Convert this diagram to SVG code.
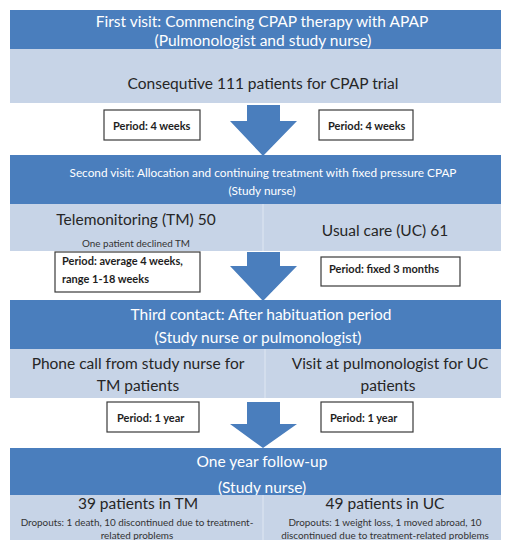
<svg xmlns="http://www.w3.org/2000/svg" width="505" height="540" viewBox="0 0 505 540">
  <style>
    .dark { fill: #4a7ebd; }
    .light { fill: #c7d4e7; }
    .split { stroke: #dfe7f2; stroke-width: 1; }
    .box { fill: #ffffff; stroke: #3a3a3a; stroke-width: 1.2; }
    .arrow { fill: #4a7ebd; }
    text { font-family: Lato, "Open Sans", "Liberation Sans", sans-serif; text-anchor: middle; dominant-baseline: central; }
    .hw { fill: #ffffff; font-size: 15.5px; }
    .hs { fill: #ffffff; font-size: 11.8px; }
    .big { fill: #262626; font-size: 15.5px; }
    .small { fill: #333333; font-size: 9.9px; }
    .per { fill: #1e1e1e; font-size: 11px; font-weight: 700; text-anchor: start; }
  </style>

  <!-- flow arrows between stages -->
  <g id="connectors">
    <polygon class="arrow" points="247,105 280,105 280,121 297,121 263,156 230,121 247,121"/>
    <polygon class="arrow" points="247,252 280,252 280,266 297,266 263,301 230,266 247,266"/>
    <polygon class="arrow" points="247,402 280,402 280,424 297,424 263,448 230,424 247,424"/>
  </g>

  <!-- stage 1 -->
  <g id="stage1">
    <rect class="dark" x="10" y="10" width="491" height="39"/>
    <text class="hw" x="262" y="21">First visit: Commencing  CPAP therapy with APAP</text>
    <text class="hw" x="263" y="40">(Pulmonologist and study nurse)</text>
    <rect class="light" x="10" y="49" width="491" height="54"/>
    <text class="big" x="263" y="83">Consequtive 111 patients for CPAP trial</text>
  </g>
  <g id="period1-left">
    <rect class="box" x="104" y="110" width="96" height="30"/>
    <text class="per" x="113" y="125">Period: 4 weeks</text>
  </g>
  <g id="period1-right">
    <rect class="box" x="319" y="110" width="94" height="30"/>
    <text class="per" x="328" y="125">Period: 4 weeks</text>
  </g>

  <!-- stage 2 -->
  <g id="stage2">
    <rect class="dark" x="10" y="155" width="491" height="49"/>
    <text class="hs" x="263" y="172">Second visit: Allocation and continuing treatment  with fixed pressure CPAP</text>
    <text class="hs" x="262" y="190">(Study nurse)</text>
    <rect class="light" x="10" y="204" width="491" height="47"/>
    <line class="split" x1="263" y1="204" x2="263" y2="251"/>
  </g>
  <g id="tm-group">
    <text class="big" x="136" y="219">Telemonitoring (TM) 50</text>
    <text class="small" x="136" y="243">One patient declined TM</text>
  </g>
  <g id="uc-group">
    <text class="big" x="385" y="230">Usual care (UC) 61</text>
  </g>
  <g id="period2-left">
    <rect class="box" x="55" y="252" width="145" height="40"/>
    <text class="per" x="62" y="260">Period: average 4 weeks,</text>
    <text class="per" x="62" y="278">range 1-18 weeks</text>
  </g>
  <g id="period2-right">
    <rect class="box" x="321" y="257" width="139" height="29"/>
    <text class="per" x="329" y="268">Period: fixed 3 months</text>
  </g>

  <!-- stage 3 -->
  <g id="stage3">
    <rect class="dark" x="10" y="300" width="491" height="49"/>
    <text class="hw" x="261" y="314" font-size="16.5">Third contact: After habituation period</text>
    <text class="hw" x="258" y="337" font-size="16.5">(Study nurse or pulmonologist)</text>
    <rect class="light" x="10" y="349" width="491" height="49"/>
    <line class="split" x1="265" y1="349" x2="265" y2="398"/>
  </g>
  <g id="phone-call">
    <text class="big" x="138" y="363" font-size="16">Phone call from study nurse for</text>
    <text class="big" x="138" y="385" font-size="16">TM patients</text>
  </g>
  <g id="visit-uc">
    <text class="big" x="390" y="363" font-size="16">Visit at pulmonologist for UC</text>
    <text class="big" x="388" y="385" font-size="16">patients</text>
  </g>
  <g id="period3-left">
    <rect class="box" x="107" y="402" width="92" height="30"/>
    <text class="per" x="117" y="417">Period: 1 year</text>
  </g>
  <g id="period3-right">
    <rect class="box" x="321" y="402" width="92" height="30"/>
    <text class="per" x="330" y="417">Period: 1 year</text>
  </g>

  <!-- stage 4 -->
  <g id="stage4">
    <rect class="dark" x="10" y="448" width="491" height="47"/>
    <text class="hw" x="262" y="461" font-size="15">One year follow-up</text>
    <text class="hw" x="262" y="487" font-size="15">(Study nurse)</text>
    <rect class="light" x="10" y="495" width="491" height="45"/>
    <line class="split" x1="263" y1="495" x2="263" y2="540"/>
  </g>
  <g id="tm-result">
    <text class="big" x="138" y="503" font-size="14.5">39 patients in TM</text>
    <text class="small" x="137" y="522">Dropouts: 1 death, 10 discontinued due to treatment-</text>
    <text class="small" x="137" y="535">related problems</text>
  </g>
  <g id="uc-result">
    <text class="big" x="385" y="503" font-size="14.5">49 patients in UC</text>
    <text class="small" x="385" y="522">Dropouts: 1 weight loss, 1 moved abroad, 10</text>
    <text class="small" x="385" y="535">discontinued due to treatment-related problems</text>
  </g>
</svg>
